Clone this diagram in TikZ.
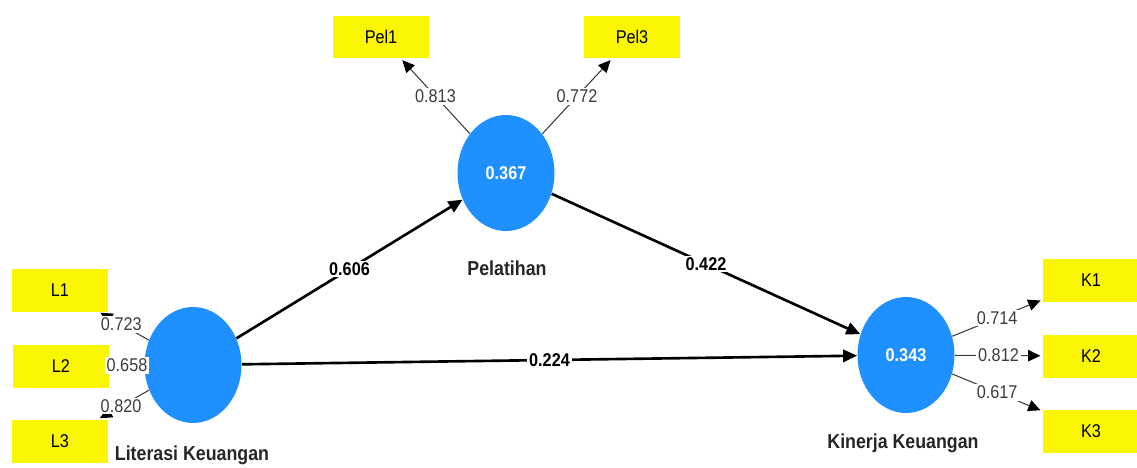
\documentclass[tikz,border=0pt]{standalone}
\usepackage{fontspec}
\setmainfont{Liberation Sans}[FakeStretch=0.88]
\usetikzlibrary{shapes.geometric,arrows.meta}
\definecolor{lvblue}{RGB}{30,144,255}
\definecolor{indyellow}{RGB}{250,245,0}
\definecolor{loadgray}{RGB}{60,60,60}
\begin{document}
\begin{tikzpicture}[x=0.02cm,y=-0.02cm,
  font=\fontsize{10.5}{12}\selectfont,
  latent/.style={ellipse,fill=lvblue,draw=none,minimum width=1.94cm,minimum height=2.32cm,inner sep=0pt,text=white,font=\fontsize{10.5}{12}\selectfont\bfseries},
  indicator/.style={rectangle,fill=indyellow,draw=none,minimum width=1.94cm,minimum height=0.86cm,inner sep=0pt},
  lvname/.style={font=\fontsize{11.5}{13}\selectfont\bfseries,text=black!85},
  path/.style={line width=1.5pt,-{Triangle[length=8pt,width=7pt]}},
  load/.style={line width=0.6pt,draw=loadgray,-{Triangle[length=7pt,width=6.5pt,color=black]},shorten >=1pt},
  coef/.style={fill=white,inner sep=1pt,font=\fontsize{10.5}{12}\selectfont\bfseries},
  lcoef/.style={fill=white,inner sep=1pt,text=loadgray}]
\useasboundingbox (0,0) rectangle (1137,467);
% indicators
\node[indicator] (L1) at (60,290) {L1};
\node[indicator] (L2) at (61,366) {L2};
\node[indicator] (L3) at (60,441) {L3};
\node[indicator] (Pel1) at (381,37) {Pel1};
\node[indicator] (Pel3) at (632,37) {Pel3};
\node[indicator] (K1) at (1091,280) {K1};
\node[indicator] (K2) at (1091,356) {K2};
\node[indicator] (K3) at (1091,431) {K3};
% latent variables
\node[latent] (lit) at (193,365) {};
\node[latent] (pel) at (506,173) {0.367};
\node[latent] (kin) at (906,355) {0.343};
% names
\node[lvname] (litname) at (192,455) {Literasi Keuangan};
\node[lvname] (pelname) at (507,268) {Pelatihan};
\node[lvname] (kinname) at (903,443) {Kinerja Keuangan};
% loadings
\draw[load] (lit) -- node[lcoef,pos=0.55] {0.723} (L1);
\draw[load] (lit) -- node[lcoef,pos=0.5] {0.658} (L2);
\draw[load] (lit) -- node[lcoef,pos=0.55] {0.820} (L3);
\draw[load] (pel) -- node[lcoef,pos=0.5] {0.813} (Pel1);
\draw[load] (pel) -- node[lcoef,pos=0.5] {0.772} (Pel3);
\draw[load] (kin) -- node[lcoef,pos=0.5] {0.714} (K1);
\draw[load] (kin) -- node[lcoef,pos=0.5] {0.812} (K2);
\draw[load] (kin) -- node[lcoef,pos=0.5] {0.617} (K3);
% structural paths
\draw[path] (lit) -- node[coef] {0.606} (pel);
\draw[path] (pel) -- node[coef] {0.422} (kin);
\draw[path] (lit) -- node[coef] {0.224} (kin);
\end{tikzpicture}
\end{document}
